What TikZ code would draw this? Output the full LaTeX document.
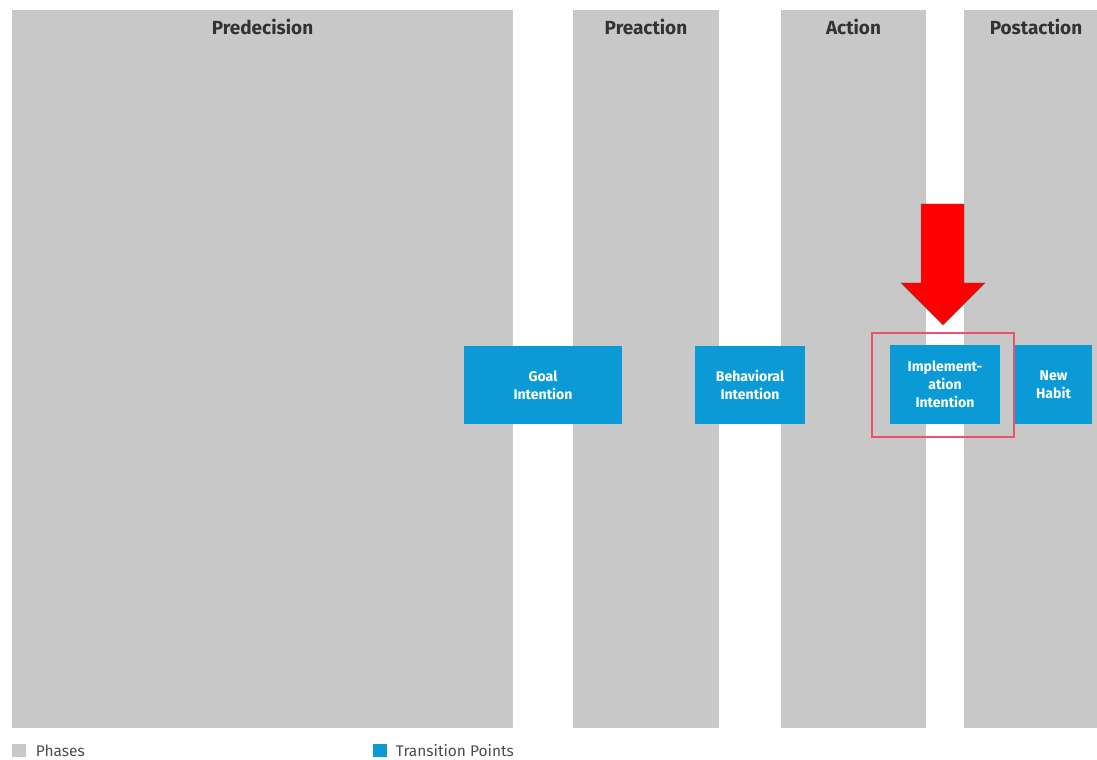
\documentclass[tikz,border=0pt]{standalone}
\usepackage{fontspec}
\setmainfont{Fira Sans}
\usetikzlibrary{positioning}
\definecolor{phasegray}{RGB}{200,200,200}
\definecolor{transblue}{RGB}{10,155,215}
\definecolor{markpink}{RGB}{232,83,110}
\tikzset{
  phase/.style={fill=phasegray, draw=none},
  phasetitle/.style={font=\fontsize{13.5}{15}\selectfont\bfseries, text=black!80, anchor=center},
  transition/.style={fill=transblue, draw=none, text=white, align=center,
    font=\fontsize{10}{12.6}\selectfont\bfseries, inner sep=0pt},
  legendtext/.style={font=\fontsize{11}{13}\selectfont, text=black!70, anchor=west},
}

\begin{document}
\begin{tikzpicture}[x=0.025cm, y=-0.025cm]
		\useasboundingbox (0,0) rectangle (1097,760);
		
		% phases
		\draw[phase] (12, 10) rectangle (513, 728);
		\draw[phase] (573, 10) rectangle (719, 728);
		\draw[phase] (781, 10) rectangle (926, 728);
		\draw[phase] (964, 10) rectangle (1097, 728);
		
		\node[phasetitle] (predecision) at (262.5, 27) {Predecision};
		\node[phasetitle] (preaction) at (646, 27) {Preaction};
		\node[phasetitle] (action) at (853.5, 27) {Action};
		\node[phasetitle] (postaction) at (1036, 27) {Postaction};
		
		% transition points
		\node[transition, minimum width=3.95cm, minimum height=1.95cm] (goal) at (543, 385) {Goal\\Intention};
		\node[transition, minimum width=2.75cm, minimum height=1.95cm] (behavioral) at (750, 385) {Behavioral\\Intention};
		\node[transition, minimum width=2.75cm, minimum height=1.95cm] (implementation) at (945, 384.5) {Implement-\\ation\\Intention};
		\node[transition, minimum width=1.925cm, minimum height=1.95cm] (habit) at (1053.5, 384.5) {New\\Habit};
		
		% highlight
		\draw[markpink, line width=1.2pt] (872, 333) rectangle (1014, 437);
		\draw[fill=red, draw=black!60, line width=0.3pt] (921, 204) -- (964, 204) -- (964, 283) -- (985, 283)
		  -- (943, 325) -- (901, 283) -- (921, 283) -- cycle;
		
		% legend
		\draw[phase] (12, 744) rectangle (26, 757);
		\node[legendtext] (phases) at (31, 751) {Phases};
		\draw[fill=transblue, draw=none] (373, 744) rectangle (387, 757);
		\node[legendtext] (points) at (391, 751) {Transition Points};
		
	\end{tikzpicture}
\end{document}
